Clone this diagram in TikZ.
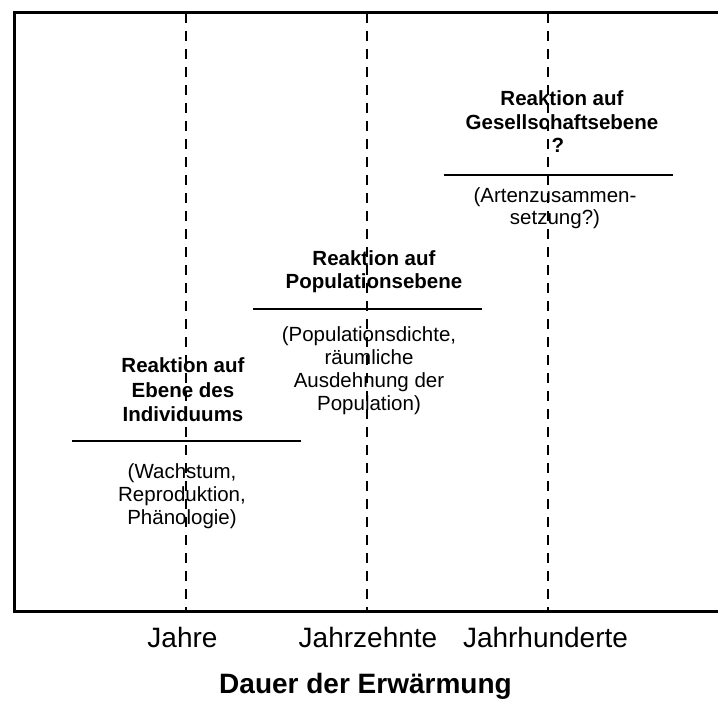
\documentclass[tikz,border=0pt]{standalone}
\usepackage{fontspec}
\setmainfont{Liberation Sans}
\begin{document}
\begin{tikzpicture}[x=1pt,y=-1pt,
  bt/.style={anchor=base,inner sep=0pt,font=\fontsize{20.5}{24}\selectfont\bfseries},
  rt/.style={anchor=base,inner sep=0pt,font=\fontsize{20.5}{24}\selectfont},
  axl/.style={anchor=base,inner sep=0pt,font=\fontsize{28}{32}\selectfont},
  rule/.style={line width=2.6pt},
  guide/.style={line width=2.5pt,dash pattern=on 10pt off 8pt}]
\useasboundingbox (0,0) rectangle (718,709);
% frame
\coordinate (ftr) at (718,13);
\coordinate (ftl) at (14,13);
\coordinate (fbl) at (14,611);
\coordinate (fbr) at (718,611);
\draw[line width=3pt] (ftr) -- (ftl) -- (fbl) -- (fbr);
% left block
\node[bt] (l1) at (183,372) {Reaktion auf};
\node[bt] (l2) at (183,397) {Ebene des};
\node[bt] (l3) at (183,421) {Individuums};
\coordinate (lra) at (72,441);
\coordinate (lrb) at (301,441);
\draw[rule] (lra) -- (lrb);
\node[rt] (l4) at (182,478) {(Wachstum,};
\node[rt] (l5) at (182,501) {Reproduktion,};
\node[rt] (l6) at (182,524) {Phänologie)};
% middle block
\node[bt] (m1) at (374,265) {Reaktion auf};
\node[bt] (m2) at (374,288) {Populationsebene};
\coordinate (mra) at (253,309);
\coordinate (mrb) at (482,309);
\draw[rule] (mra) -- (mrb);
\node[rt] (m3) at (369,341) {(Populationsdichte,};
\node[rt] (m4) at (369,364) {räumliche};
\node[rt] (m5) at (369,387) {Ausdehnung der};
\node[rt] (m6) at (369,410) {Population)};
% right block
\node[bt] (r1) at (562,106) {Reaktion auf};
\node[bt] (r2) at (562,129) {Gesellschaftsebene};
\node[bt] (r3) at (558,152) {?};
\coordinate (rra) at (444,175);
\coordinate (rrb) at (673,175);
\draw[rule] (rra) -- (rrb);
\node[rt] (r4) at (555,202) {(Artenzusammen-};
\node[rt] (r5) at (555,224) {setzung?)};
% dashed guides
\coordinate (g1t) at (186,13); \coordinate (g1b) at (186,611);
\coordinate (g2t) at (367,13); \coordinate (g2b) at (367,611);
\coordinate (g3t) at (548,13); \coordinate (g3b) at (548,611);
\draw[guide] (g1t) -- (g1b);
\draw[guide] (g2t) -- (g2b);
\draw[guide] (g3t) -- (g3b);
% axis labels
\node[axl] (a1) at (182.5,647) {Jahre};
\node[axl] (a2) at (368,647) {Jahrzehnte};
\node[axl] (a3) at (545.5,647) {Jahrhunderte};
\node[axl,font=\fontsize{28}{32}\selectfont\bfseries] (t) at (365.5,693) {Dauer der Erwärmung};
\end{tikzpicture}
\end{document}
